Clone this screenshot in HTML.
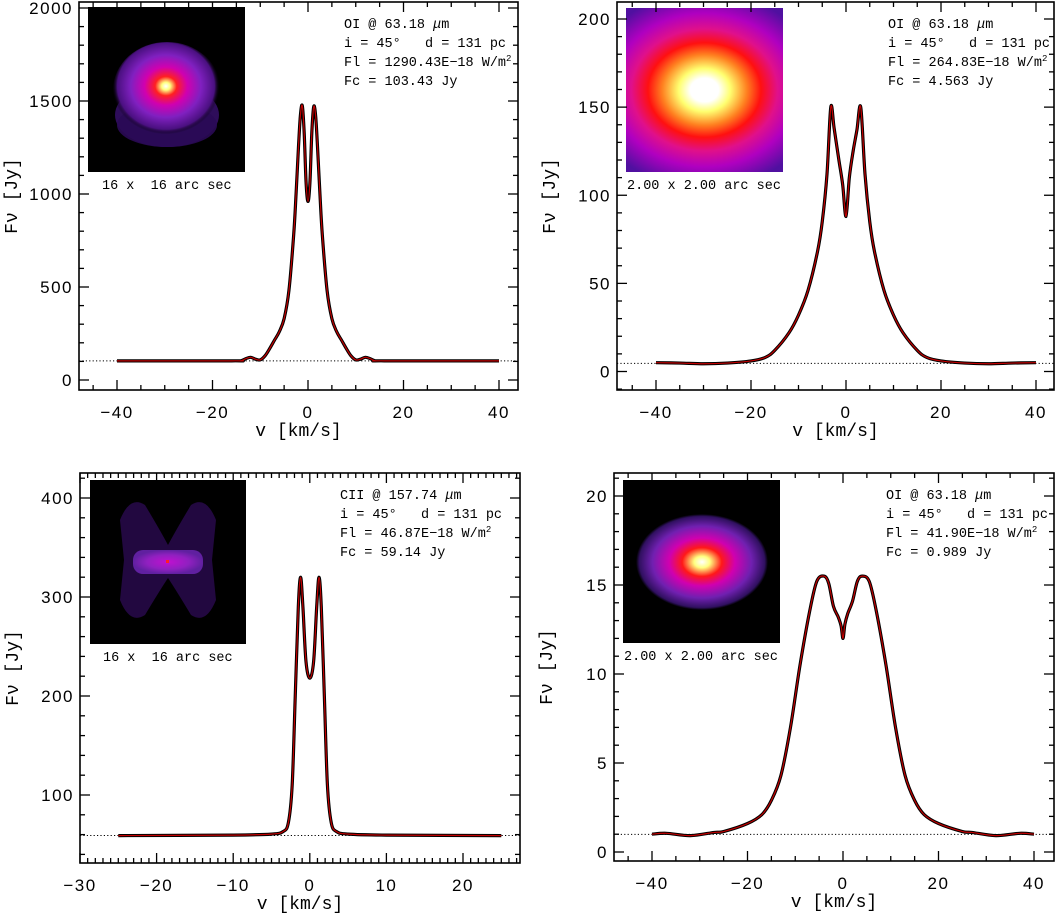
<!DOCTYPE html>
<html><head><meta charset="utf-8"><style>
html,body{margin:0;padding:0;background:#fff;}
svg{display:block;}
.tk{font-family:"Liberation Sans",sans-serif;font-size:17px;letter-spacing:1.5px;fill:#000;}
.tt{font-family:"Liberation Mono",monospace;font-size:18px;fill:#000;}
.in{font-family:"Liberation Mono",monospace;font-size:13.5px;fill:#000;white-space:pre;}
</style></head><body>
<svg id="fig" width="1058" height="914" viewBox="0 0 1058 914" xmlns="http://www.w3.org/2000/svg">
<defs>
<radialGradient id="g1" cx="0.49" cy="0.46" r="0.5">
<stop offset="0" stop-color="#ffffff"/><stop offset="0.08" stop-color="#ffff80"/><stop offset="0.2" stop-color="#ff2020"/><stop offset="0.4" stop-color="#d000b0"/><stop offset="0.65" stop-color="#8020c0"/><stop offset="0.9" stop-color="#4a1080"/><stop offset="1" stop-color="#000" stop-opacity="0"/>
</radialGradient>
<radialGradient id="g2" cx="0.5" cy="0.5" r="0.75" gradientTransform="translate(0.5 0.5) scale(1 0.8) translate(-0.5 -0.5)">
<stop offset="0" stop-color="#ffffff"/><stop offset="0.12" stop-color="#ffffff"/><stop offset="0.22" stop-color="#ffff70"/><stop offset="0.36" stop-color="#ff8020"/><stop offset="0.48" stop-color="#ff1010"/><stop offset="0.62" stop-color="#e0108a"/><stop offset="0.78" stop-color="#b000c0"/><stop offset="1" stop-color="#5010a0"/>
</radialGradient>
<radialGradient id="g4" cx="0.5" cy="0.5" r="0.5">
<stop offset="0" stop-color="#ffffff"/><stop offset="0.12" stop-color="#ffff80"/><stop offset="0.3" stop-color="#ff1818"/><stop offset="0.5" stop-color="#d000b0"/><stop offset="0.75" stop-color="#7020b0"/><stop offset="0.95" stop-color="#301060"/><stop offset="1" stop-color="#000"/>
</radialGradient>
<radialGradient id="g3" cx="0.5" cy="0.5" r="0.5">
<stop offset="0" stop-color="#c010d0"/><stop offset="0.6" stop-color="#9020c0"/><stop offset="1" stop-color="#6020a0"/>
</radialGradient>
</defs>
</svg>
<script>
// ---- Panel data (velocity km/s, flux Jy) ----
const p1V = [-40,-16,-14,-13,-12,-11,-10,-9,-8,-7,-6,-5,-4,-3,-2.5,-2,-1.6,-1.2,-0.8,-0.4,0,0.4,0.8,1.2,1.6,2,2.5,3,4,5,6,7,8,9,10,11,12,13,14,16,40];
const p1F = [103,103,104,115,122,112,108,130,170,215,260,330,480,780,1000,1250,1420,1475,1330,1060,960,1060,1330,1470,1420,1250,1000,780,480,330,260,215,170,130,108,112,122,115,104,103,103];
const p1Cont = [103];
const p2V = [-40,-35,-30,-25,-20,-17,-15,-12,-10,-8,-6,-5,-4,-3.2,-2.5,-1.5,-0.7,0,0.7,1.5,2.3,3.1,4,5,6,8,10,12,15,17,20,25,30,35,40];
const p2F = [5,4.8,4.4,4.8,6,8,12,22,32,46,68,85,112,150,138,120,106,88,110,125,137,150,112,85,68,46,32,22,12,8,6,4.8,4.4,4.8,5];
const p2Cont = [4.6];
const p3V = [-25,-10,-5,-3.5,-2.8,-2.3,-1.9,-1.5,-1.2,-0.9,-0.5,0,0.5,0.9,1.2,1.5,1.9,2.3,2.8,3.5,5,10,25];
const p3F = [59,59.5,60.5,63,72,110,200,290,320,290,235,218,235,290,320,290,200,110,72,63,60.5,59.5,59];
const p3Cont = [59.1];
const p4V = [-40,-37,-32,-27,-25,-20,-17,-15,-13,-11,-9,-7,-5.5,-4,-3,-2,-1,-0.4,0,0.4,1,2,3,4,5.5,7,9,11,13,15,17,20,25,27,32,37,40];
const p4F = [1,1.05,0.92,1.1,1.15,1.6,2.1,2.9,4.3,7,10.5,13.5,15.2,15.5,15.1,13.8,13.2,12.7,12,12.8,13.4,14.1,15.2,15.5,15.2,13.5,10.5,7,4.3,2.9,2.1,1.6,1.15,1.1,0.92,1.05,1];
const p4Cont = [0.989];

const NS='http://www.w3.org/2000/svg';
const fig=document.getElementById('fig');
function mk(tag,attrs,parent){const e=document.createElementNS(NS,tag);for(const k in attrs)e.setAttribute(k,attrs[k]);(parent||fig).appendChild(e);return e;}

function panel(cfg){
  const g=mk('g',{});
  
  
  const {L,R,T,B}=cfg;
  const sx=v=>cfg.xa.p0+(v-cfg.xa.v0)*(cfg.xa.p1-cfg.xa.p0)/(cfg.xa.v1-cfg.xa.v0);
  const sy=v=>cfg.ya.p0+(v-cfg.ya.v0)*(cfg.ya.p1-cfg.ya.p0)/(cfg.ya.v1-cfg.ya.v0);
  const xmin=cfg.xa.v0+(L-cfg.xa.p0)/((cfg.xa.p1-cfg.xa.p0)/(cfg.xa.v1-cfg.xa.v0));
  const xmax=cfg.xa.v0+(R-cfg.xa.p0)/((cfg.xa.p1-cfg.xa.p0)/(cfg.xa.v1-cfg.xa.v0));
  const ymin=cfg.ya.v0+(B-cfg.ya.p0)/((cfg.ya.p1-cfg.ya.p0)/(cfg.ya.v1-cfg.ya.v0));
  const ymax=cfg.ya.v0+(T-cfg.ya.p0)/((cfg.ya.p1-cfg.ya.p0)/(cfg.ya.v1-cfg.ya.v0));
  const ig=mk('g',{},g);
  
  
  cfg.inset(ig);
  mk('text',{x:cfg.capX,y:cfg.capY,class:'in','font-size':'14'},g).textContent=cfg.cap;
  const c=mk('line',{x1:L,x2:R,y1:sy(cfg.cont[0]),y2:sy(cfg.cont[0]),stroke:'#000','stroke-width':1,'stroke-dasharray':'1.2 2.2'},g);
  
  
  const px=cfg.v.map(sx), py=cfg.f.map(sy);
  let d='M'+px[0].toFixed(2)+' '+py[0].toFixed(2);
  for(let i=0;i<px.length-1;i++){
    const x0=px[Math.max(0,i-1)],y0=py[Math.max(0,i-1)],x1=px[i],y1=py[i],x2=px[i+1],y2=py[i+1],x3=px[Math.min(px.length-1,i+2)],y3=py[Math.min(px.length-1,i+2)];
    const c1x=x1+(x2-x0)/6,c1y=y1+(y2-y0)/6,c2x=x2-(x3-x1)/6,c2y=y2-(y3-y1)/6;
    d+=` C${c1x.toFixed(2)} ${c1y.toFixed(2)} ${c2x.toFixed(2)} ${c2y.toFixed(2)} ${x2.toFixed(2)} ${y2.toFixed(2)}`;
  }
  const lb=mk('path',{d,fill:'none',stroke:'#000','stroke-width':3.2,'stroke-linejoin':'round'},g);
  
  
  const lr=mk('path',{d,fill:'none',stroke:'#c00000','stroke-width':1.2,'stroke-linejoin':'round'},g);
  
  
  const fr=mk('rect',{x:L,y:T,width:R-L,height:B-T,fill:'none',stroke:'#000','stroke-width':1.6},g);
  
  
  const eps=1e-6;
  for(let v=Math.ceil(xmin/cfg.xminor)*cfg.xminor;v<=xmax+eps;v+=cfg.xminor){
    const maj=Math.abs(v/cfg.xmajor-Math.round(v/cfg.xmajor))<1e-6;const len=maj?10:5;const x=sx(v);
    mk('line',{x1:x,x2:x,y1:B,y2:B-len,stroke:'#000','stroke-width':1.3},g);
    mk('line',{x1:x,x2:x,y1:T,y2:T+len,stroke:'#000','stroke-width':1.3},g);
    if(maj){const t=mk('text',{x:x,y:B+28,class:'tk','text-anchor':'middle'},g);t.textContent=(Math.round(v)<0?'\u2212':'')+Math.abs(Math.round(v));
      
      }
  }
  for(let v=Math.ceil(ymin/cfg.yminor)*cfg.yminor;v<=ymax+eps;v+=cfg.yminor){
    const maj=Math.abs(v/cfg.ymajor-Math.round(v/cfg.ymajor))<1e-6;const len=maj?10:5;const y=sy(v);
    mk('line',{x1:L,x2:L+len,y1:y,y2:y,stroke:'#000','stroke-width':1.3},g);
    mk('line',{x1:R,x2:R-len,y1:y,y2:y,stroke:'#000','stroke-width':1.3},g);
    if(maj){const t=mk('text',{x:L-6,y:y+6,class:'tk','text-anchor':'end'},g);t.textContent=Math.round(v);
      
      }
  }
  const xt=mk('text',{x:(L+R)/2,y:B+46,class:'tt','text-anchor':'middle'},g);xt.textContent='v [km/s]';
  
  
  const yt=mk('text',{x:0,y:0,class:'tt','text-anchor':'middle',transform:`translate(${L-62},${(T+B)/2}) rotate(-90)`},g);yt.textContent='F\u03bd [Jy]';
  
  
  const an=mk('g',{},g);
  
  
  cfg.ann.forEach((s,i)=>{const t=mk('text',{x:cfg.annX,y:cfg.annY+i*19,class:'in'},an);t.innerHTML=s;});
}

panel({name:'panel-oi-16arcsec',L:79,R:518,T:2,B:390,xa:{v0:-40,v1:40,p0:117,p1:499},ya:{v0:0,v1:2000,p0:380,p1:8},
 xmajor:20,xminor:5,ymajor:500,yminor:100,v:p1V,f:p1F,cont:p1Cont,
 inset:g=>{mk('rect',{x:88,y:7,width:157,height:165,fill:'#000'},g);
   mk('ellipse',{cx:167,cy:115,rx:52,ry:32,fill:'#3a1070',opacity:0.8},g);
   mk('ellipse',{cx:167,cy:125,rx:50,ry:22,fill:'#2a0a55',opacity:0.9},g);
   mk('ellipse',{cx:167,cy:90,rx:54,ry:48,fill:'url(#g1)'},g);},
 cap:'16 x  16 arc sec',capX:102,capY:189,
 ann:['OI @ 63.18 <tspan font-style="italic">\u03bc</tspan>m','i = 45\u00b0   d = 131 pc','Fl = 1290.43E\u221218 W/m<tspan dy="-5" font-size="9">2</tspan>','Fc = 103.43 Jy'],annX:344,annY:28});

panel({name:'panel-oi-2arcsec-top',L:617,R:1054,T:2,B:390,xa:{v0:-40,v1:40,p0:656,p1:1036},ya:{v0:0,v1:200,p0:371.5,p1:19},
 xmajor:20,xminor:5,ymajor:50,yminor:10,v:p2V,f:p2F,cont:p2Cont,
 inset:g=>{mk('rect',{x:626,y:8,width:157,height:164,fill:'url(#g2)'},g);},
 cap:'2.00 x 2.00 arc sec',capX:627,capY:189,
 ann:['OI @ 63.18 <tspan font-style="italic">\u03bc</tspan>m','i = 45\u00b0   d = 131 pc','Fl = 264.83E\u221218 W/m<tspan dy="-5" font-size="9">2</tspan>','Fc = 4.563 Jy'],annX:888,annY:28});

panel({name:'panel-cii',L:80,R:520,T:473,B:863,xa:{v0:-30,v1:20,p0:80,p1:463},ya:{v0:100,v1:400,p0:795,p1:498},
 xmajor:10,xminor:1,ymajor:100,yminor:20,v:p3V,f:p3F,cont:p3Cont,
 inset:g=>{mk('rect',{x:90,y:480,width:156,height:164,fill:'#000'},g);
   mk('path',{d:'M120 520 Q130 495 145 505 Q160 530 168 545 Q176 530 191 505 Q206 495 216 520 L212 560 L216 600 Q206 625 191 615 Q176 590 168 578 Q160 590 145 615 Q130 625 120 600 L124 560 Z',fill:'#2a0a50',opacity:0.8},g);
   mk('rect',{x:133,y:550,width:70,height:24,rx:10,fill:'url(#g3)'},g);
   mk('rect',{x:166,y:560,width:3,height:3,fill:'#ff2020'},g);},
 cap:'16 x  16 arc sec',capX:103,capY:661,
 ann:['CII @ 157.74 <tspan font-style="italic">\u03bc</tspan>m','i = 45\u00b0   d = 131 pc','Fl = 46.87E\u221218 W/m<tspan dy="-5" font-size="9">2</tspan>','Fc = 59.14 Jy'],annX:340,annY:499});

panel({name:'panel-oi-2arcsec-bottom',L:614,R:1054,T:473,B:861,xa:{v0:-40,v1:40,p0:652,p1:1034},ya:{v0:0,v1:20,p0:852,p1:496},
 xmajor:20,xminor:5,ymajor:5,yminor:1,v:p4V,f:p4F,cont:p4Cont,
 inset:g=>{mk('rect',{x:623,y:480,width:157,height:163,fill:'#000'},g);
   mk('ellipse',{cx:702,cy:562,rx:66,ry:48,fill:'url(#g4)'},g);},
 cap:'2.00 x 2.00 arc sec',capX:624,capY:660,
 ann:['OI @ 63.18 <tspan font-style="italic">\u03bc</tspan>m','i = 45\u00b0   d = 131 pc','Fl = 41.90E\u221218 W/m<tspan dy="-5" font-size="9">2</tspan>','Fc = 0.989 Jy'],annX:886,annY:499});
</script>
</body></html>
